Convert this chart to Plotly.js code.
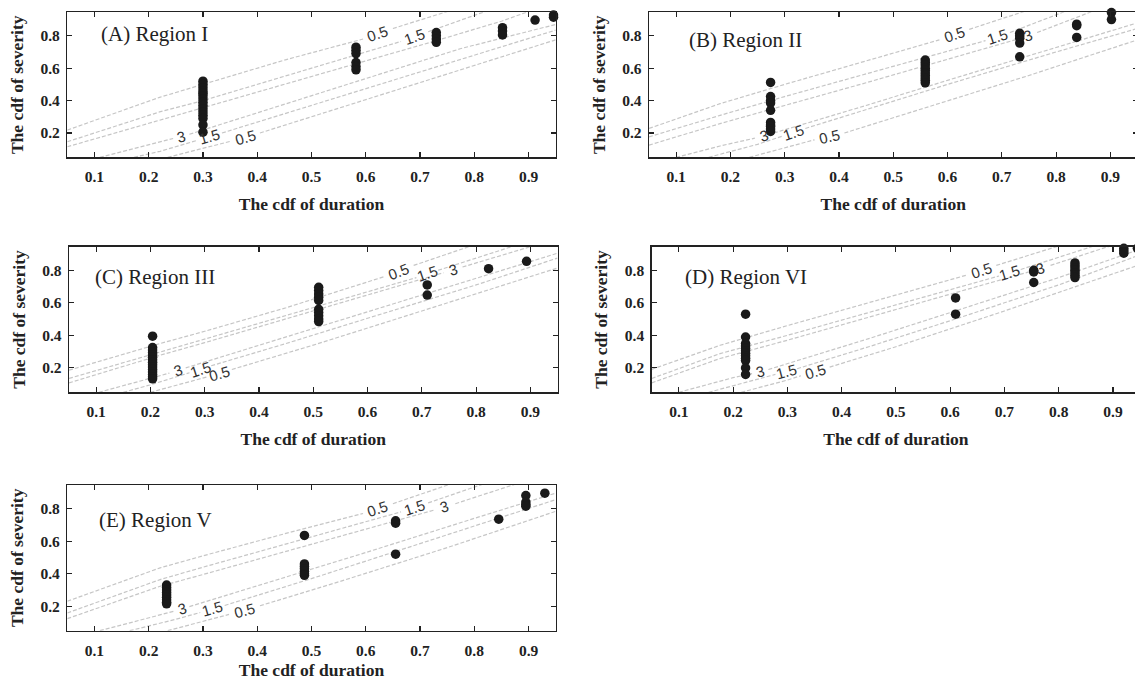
<!DOCTYPE html>
<html>
<head>
<meta charset="utf-8">
<script src="https://cdn.plot.ly/plotly-3.0.1.min.js"></script>
<style>html,body{margin:0;padding:0;overflow:hidden;background:#fff;}#chart{width:1142px;height:680px;}</style>
</head>
<body>
<div id="chart"></div>
<script>
// ---------------- data ----------------
const xTickVals = [0.1, 0.2, 0.3, 0.4, 0.5, 0.6, 0.7, 0.8, 0.9];
const xTickText = ['0.1', '0.2', '0.3', '0.4', '0.5', '0.6', '0.7', '0.8', '0.9'];
const yTickVals = [0.2, 0.4, 0.6, 0.8];
const yTickText = ['0.2', '0.4', '0.6', '0.8'];
const xAxisTitle = 'The cdf of duration';
const yAxisTitle = 'The cdf of severity';
const panelTitles = ['(A) Region I', '(B) Region II', '(C) Region III', '(D) Region VI', '(E) Region V'];
const contourLevels = ['0.5', '1.5', '3'];

// Panel A observed points
const aDuration = [0.30,0.30,0.30,0.30,0.30,0.30,0.30,0.30,0.30,0.30,0.30,0.30,0.30,0.30,0.30,
                   0.582,0.582,0.582,0.582,0.582,0.582, 0.73,0.73,0.73,0.73, 0.852,0.852,0.852, 0.912, 0.946,0.946];
const aSeverity = [0.52,0.50,0.48,0.46,0.445,0.43,0.41,0.39,0.37,0.35,0.33,0.31,0.29,0.25,0.205,
                   0.73,0.71,0.69,0.635,0.61,0.59, 0.82,0.80,0.78,0.76, 0.85,0.83,0.805, 0.897, 0.928,0.915];
// Panel B observed points
const bDuration = [0.274,0.274,0.274,0.274,0.274,0.274,0.274,0.274,0.274,0.274,
                   0.559,0.559,0.559,0.559,0.559,0.559,0.559,0.559,0.559,0.559,
                   0.733,0.733,0.733,0.733,0.733, 0.838,0.838,0.838, 0.902,0.902];
const bSeverity = [0.512,0.425,0.40,0.385,0.34,0.265,0.25,0.24,0.225,0.21,
                   0.65,0.635,0.62,0.60,0.585,0.57,0.555,0.54,0.525,0.51,
                   0.815,0.80,0.785,0.755,0.67, 0.872,0.862,0.79, 0.943,0.90];
// Panel C observed points
const cDuration = [0.204,0.204,0.204,0.204,0.204,0.204,0.204,0.204,0.204,0.204,0.204,0.204,0.204,0.204,0.204,
                   0.51,0.51,0.51,0.51,0.51,0.51,0.51,0.51,0.51,0.51, 0.71,0.71, 0.823, 0.893];
const cSeverity = [0.395,0.325,0.31,0.295,0.28,0.265,0.25,0.235,0.22,0.205,0.19,0.175,0.16,0.145,0.133,
                   0.695,0.675,0.655,0.635,0.615,0.56,0.54,0.52,0.50,0.485, 0.71,0.648, 0.81, 0.855];
// Panel D observed points
const dDuration = [0.223,0.223,0.223,0.223,0.223,0.223,0.223,0.223,0.223,0.223,0.223,0.223,
                   0.61,0.61, 0.754,0.754,0.754, 0.83,0.83,0.83,0.83,0.83,0.83,0.83,
                   0.92,0.92,0.92, 0.945];
const dSeverity = [0.53,0.39,0.35,0.335,0.32,0.305,0.29,0.275,0.26,0.245,0.20,0.16,
                   0.63,0.53, 0.80,0.79,0.725, 0.845,0.83,0.815,0.80,0.785,0.77,0.755,
                   0.935,0.92,0.905, 0.935];
// Panel E observed points
const eDuration = [0.233,0.233,0.233,0.233,0.233,0.233,0.233,0.233,0.233,
                   0.487,0.487,0.487,0.487,0.487,0.487,0.487, 0.655,0.655,0.655, 0.845,
                   0.895,0.895,0.895,0.895, 0.93];
const eSeverity = [0.33,0.315,0.30,0.285,0.27,0.255,0.24,0.225,0.215,
                   0.635,0.46,0.445,0.43,0.415,0.40,0.39, 0.725,0.71,0.52, 0.735,
                   0.88,0.84,0.825,0.815, 0.895];

// Contour lines [duration, severity]; null = gap where the level label sits
const aC05Up = [[0.05,0.218],[0.22,0.42],[0.30,0.50],[0.45,0.65],[0.595,0.78],null,[0.65,0.845],[0.76,0.96]];
const aC15Up = [[0.05,0.146],[0.22,0.33],[0.30,0.40],[0.45,0.55],[0.60,0.70],[0.665,0.765],null,[0.715,0.825],[0.82,0.95]];
const aC3Up  = [[0.05,0.115],[0.22,0.28],[0.30,0.355],[0.45,0.50],[0.60,0.645],[0.73,0.77],[0.85,0.89],[0.90,0.95]];
const aC05Lo = [[0.235,0.05],[0.33,0.13],[0.35,0.148],null,[0.405,0.20],[0.55,0.352],[0.774,0.589],[0.95,0.775]];
const aC15Lo = [[0.173,0.05],[0.221,0.087],[0.29,0.155],null,[0.335,0.20],[0.50,0.37],[0.65,0.525],[0.80,0.68],[0.95,0.835]];
const aC3Lo  = [[0.11,0.05],[0.221,0.146],[0.245,0.166],null,[0.275,0.192],[0.45,0.377],[0.60,0.536],[0.774,0.72],[0.95,0.87]];

const bC05Up = [[0.05,0.228],[0.181,0.381],[0.30,0.50],[0.45,0.645],[0.585,0.775],null,[0.64,0.84],[0.75,0.96]];
const bC15Up = [[0.05,0.176],[0.181,0.309],[0.30,0.425],[0.45,0.565],[0.60,0.705],[0.67,0.77],null,[0.715,0.82],[0.82,0.955]];
const bC3Up  = [[0.05,0.125],[0.181,0.258],[0.30,0.37],[0.45,0.51],[0.60,0.655],[0.73,0.78],null,[0.765,0.82],[0.87,0.955]];
const bC05Lo = [[0.235,0.05],[0.33,0.135],[0.355,0.158],null,[0.41,0.20],[0.55,0.345],[0.75,0.555],[0.95,0.775]];
const bC15Lo = [[0.16,0.05],[0.25,0.13],[0.295,0.18],null,[0.338,0.228],[0.45,0.345],[0.60,0.50],[0.80,0.70],[0.95,0.845]];
const bC3Lo  = [[0.10,0.05],[0.181,0.12],[0.245,0.168],null,[0.28,0.20],[0.45,0.37],[0.60,0.525],[0.80,0.73],[0.95,0.88]];

const cC05Up = [[0.05,0.186],[0.218,0.35],[0.30,0.425],[0.45,0.57],[0.63,0.76],null,[0.685,0.83],[0.80,0.96]];
const cC15Up = [[0.05,0.135],[0.218,0.298],[0.30,0.375],[0.45,0.52],[0.60,0.665],[0.69,0.755],null,[0.73,0.80],[0.87,0.95]];
const cC3Up  = [[0.05,0.108],[0.218,0.278],[0.30,0.355],[0.45,0.50],[0.60,0.645],[0.74,0.785],null,[0.775,0.82],[0.91,0.955]];
const cC05Lo = [[0.20,0.05],[0.285,0.125],[0.305,0.145],null,[0.35,0.19],[0.50,0.34],[0.70,0.55],[0.95,0.814]];
const cC15Lo = [[0.15,0.05],[0.199,0.095],[0.272,0.17],null,[0.312,0.213],[0.45,0.35],[0.60,0.505],[0.80,0.71],[0.95,0.875]];
const cC3Lo  = [[0.105,0.05],[0.199,0.134],[0.235,0.168],null,[0.265,0.20],[0.45,0.39],[0.60,0.545],[0.80,0.75],[0.95,0.905]];

const dC05Up = [[0.05,0.191],[0.176,0.339],[0.30,0.46],[0.45,0.60],[0.63,0.77],null,[0.685,0.83],[0.81,0.96]];
const dC15Up = [[0.05,0.135],[0.176,0.288],[0.30,0.40],[0.45,0.54],[0.60,0.68],[0.69,0.765],null,[0.73,0.805],[0.87,0.955]];
const dC3Up  = [[0.05,0.108],[0.176,0.258],[0.30,0.37],[0.45,0.51],[0.60,0.65],[0.745,0.79],null,[0.785,0.83],[0.90,0.955]];
const dC05Lo = [[0.215,0.05],[0.30,0.125],[0.325,0.152],null,[0.378,0.205],[0.50,0.33],[0.70,0.55],[0.95,0.835]];
const dC15Lo = [[0.155,0.05],[0.24,0.125],[0.278,0.16],null,[0.318,0.195],[0.45,0.33],[0.60,0.49],[0.80,0.71],[0.95,0.895]];
const dC3Lo  = [[0.10,0.05],[0.20,0.14],[0.235,0.165],null,[0.265,0.19],[0.45,0.38],[0.60,0.54],[0.80,0.755],[0.95,0.93]];

const eC05Up = [[0.05,0.231],[0.221,0.436],[0.30,0.51],[0.45,0.645],[0.595,0.77],null,[0.65,0.83],[0.76,0.955]];
const eC15Up = [[0.05,0.159],[0.221,0.364],[0.30,0.44],[0.45,0.58],[0.60,0.72],[0.665,0.78],null,[0.715,0.835],[0.82,0.955]];
const eC3Up  = [[0.05,0.124],[0.221,0.323],[0.30,0.395],[0.45,0.535],[0.60,0.675],[0.725,0.79],null,[0.765,0.83],[0.88,0.955]];
const eC05Lo = [[0.235,0.05],[0.33,0.132],[0.348,0.15],null,[0.405,0.203],[0.55,0.35],[0.75,0.56],[0.95,0.783]];
const eC15Lo = [[0.165,0.05],[0.25,0.12],[0.295,0.162],null,[0.34,0.205],[0.50,0.37],[0.70,0.585],[0.95,0.855]];
const eC3Lo  = [[0.11,0.05],[0.20,0.13],[0.247,0.17],null,[0.275,0.198],[0.45,0.375],[0.60,0.53],[0.80,0.74],[0.95,0.895]];

// ---------------- layout geometry (pixels in a 1142 x 680 page) ----------------
const W = 1142, H = 680;
const xRange = [0.05, 0.95], yRange = [0.05, 0.945];
const panels = [
  {box:[67.3,555.7,12.3,157.3],  title:[99,34],  dur:aDuration, sev:aSeverity, lines:[aC05Up,aC15Up,aC3Up,aC05Lo,aC15Lo,aC3Lo]},
  {box:[649,1137.5,12.3,157.3],  title:[687,40], dur:bDuration, sev:bSeverity, lines:[bC05Up,bC15Up,bC3Up,bC05Lo,bC15Lo,bC3Lo]},
  {box:[69,557.5,246.7,392.3],   title:[93,277], dur:cDuration, sev:cSeverity, lines:[cC05Up,cC15Up,cC3Up,cC05Lo,cC15Lo,cC3Lo]},
  {box:[651.7,1140.1,246.7,392.3],title:[683,277],dur:dDuration, sev:dSeverity, lines:[dC05Up,dC15Up,dC3Up,dC05Lo,dC15Lo,dC3Lo]},
  {box:[67.3,555.7,485,630.7],   title:[97,520], dur:eDuration, sev:eSeverity, lines:[eC05Up,eC15Up,eC3Up,eC05Lo,eC15Lo,eC3Lo]}
];

const serif = '"Liberation Serif", "Times New Roman", serif';
const sans = '"Liberation Sans", Arial, sans-serif';
const ink = '#222222';
function bold(t){ return '<b>' + t + '</b>'; }

const traces = [];
const annotations = [];
const layout = {
  width: W, height: H, margin: {l:0, r:0, t:0, b:0},
  paper_bgcolor: '#ffffff', plot_bgcolor: '#ffffff', showlegend: false,
  annotations: annotations
};

panels.forEach(function(p, i){
  const n = i === 0 ? '' : String(i + 1);
  const xr = 'x' + n, yr = 'y' + n;
  const b = p.box;
  const ppuX = (b[1] - b[0]) / (xRange[1] - xRange[0]);
  const ppuY = (b[3] - b[2]) / (yRange[1] - yRange[0]);

  const axisCommon = {
    showline: true, linecolor: ink, linewidth: 1.4, mirror: 'ticks',
    ticks: 'inside', ticklen: 5, tickwidth: 1.1, tickcolor: ink,
    showgrid: false, zeroline: false, fixedrange: true,
    tickfont: {family: serif, size: 15.5, color: ink}
  };
  layout['xaxis' + n] = Object.assign({}, axisCommon, {
    domain: [b[0] / W, b[1] / W], range: xRange, anchor: yr,
    tickmode: 'array', tickvals: xTickVals, ticktext: xTickText.map(bold), ticklabelstandoff: 5,
    title: {text: bold(xAxisTitle), font: {family: serif, size: 17.5, color: ink}, standoff: 13}
  });
  layout['yaxis' + n] = Object.assign({}, axisCommon, {
    domain: [1 - b[3] / H, 1 - b[2] / H], range: yRange, anchor: xr,
    tickmode: 'array', tickvals: yTickVals, ticktext: yTickText.map(bold), ticklabelstandoff: 3,
    title: {text: bold(yAxisTitle), font: {family: serif, size: 17.5, color: ink}, standoff: 12}
  });

  // contour lines
  p.lines.forEach(function(pts, k){
    traces.push({
      type: 'scatter', mode: 'lines', xaxis: xr, yaxis: yr, hoverinfo: 'skip',
      x: pts.map(function(q){ return q ? q[0] : null; }),
      y: pts.map(function(q){ return q ? q[1] : null; }),
      connectgaps: false,
      line: {color: '#c6c6c6', width: 1.2, dash: '4px,2px'}
    });
    const gi = pts.indexOf(null);
    if (gi > 0) {
      const a = pts[gi - 1], c = pts[gi + 1];
      const ang = Math.atan2((c[1] - a[1]) * ppuY, (c[0] - a[0]) * ppuX) * 180 / Math.PI;
      annotations.push({
        xref: xr, yref: yr, x: (a[0] + c[0]) / 2, y: (a[1] + c[1]) / 2,
        text: contourLevels[k % 3], showarrow: false, textangle: -ang,
        xanchor: 'center', yanchor: 'middle',
        font: {family: sans, size: 15, color: '#333333'}
      });
    }
  });

  // observed points
  traces.push({
    type: 'scatter', mode: 'markers', xaxis: xr, yaxis: yr, cliponaxis: false,
    x: p.dur, y: p.sev,
    marker: {color: '#1a1a1a', size: 9.5, line: {width: 0}}
  });

  // panel label
  annotations.push({
    xref: 'paper', yref: 'paper', x: p.title[0] / W, y: 1 - p.title[1] / H,
    xanchor: 'left', yanchor: 'middle', showarrow: false,
    text: panelTitles[i], font: {family: serif, size: 21, color: ink}
  });
});

Plotly.newPlot('chart', traces, layout, {staticPlot: true, displayModeBar: false});
</script>
</body>
</html>
